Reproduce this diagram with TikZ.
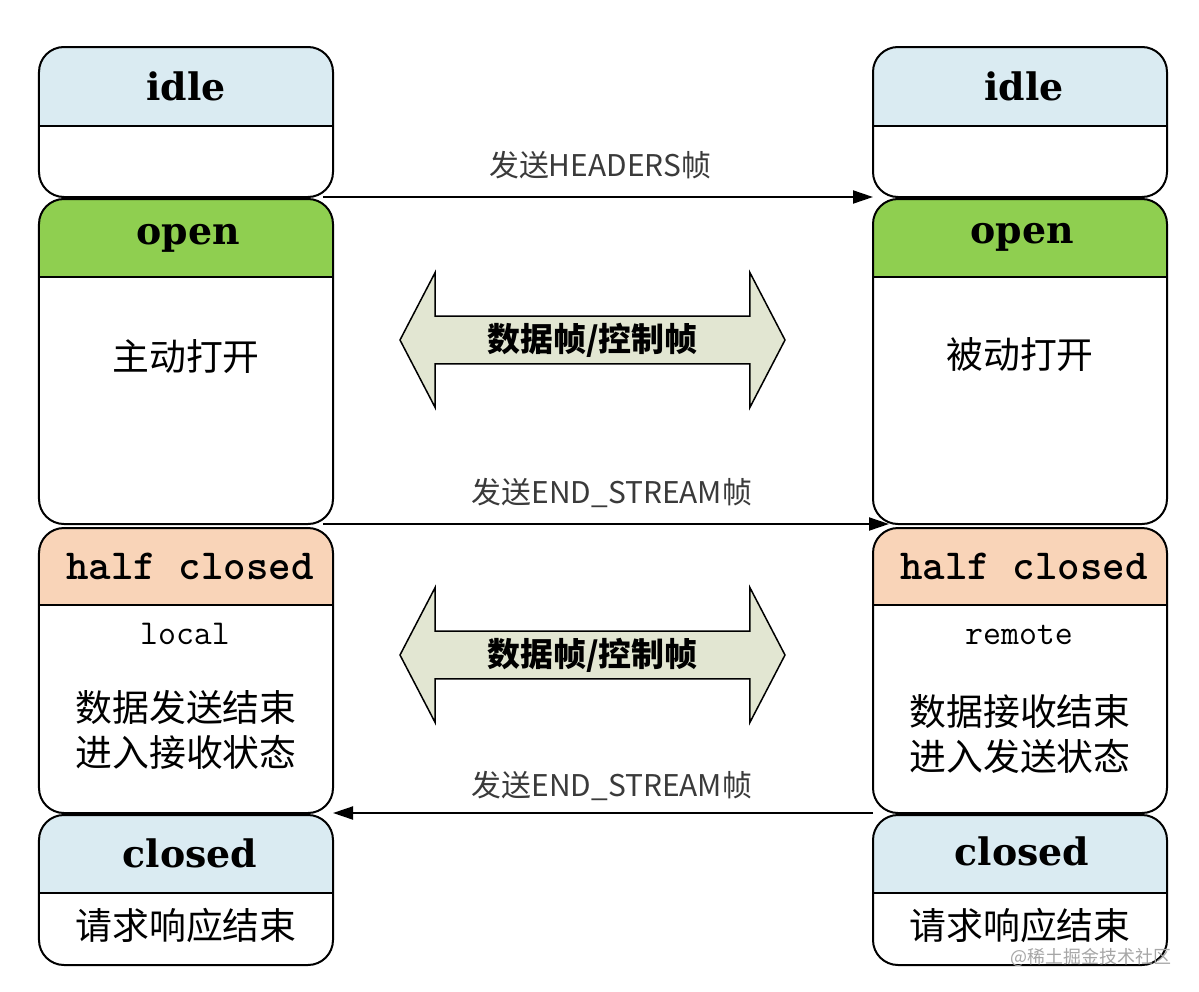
\documentclass[tikz,border=0pt]{standalone}
\usepackage{fontspec}
\newfontfamily\cjk{Noto Sans CJK SC}
\newfontfamily\serifb{DejaVu Serif}
\usetikzlibrary{arrows.meta,shapes.arrows}
\definecolor{hblue}{HTML}{DAEBF2}
\definecolor{hgreen}{HTML}{8FCF50}
\definecolor{hpeach}{HTML}{F9D4B8}
\definecolor{arrfill}{HTML}{E2E6D2}
\definecolor{lbl}{HTML}{3A3A3A}
\begin{document}
\begin{tikzpicture}[x=1bp,y=-1bp,
  state/.style={draw=black, line width=2bp, rounded corners=25bp, fill=white,
    minimum width=294bp, inner sep=0pt, outer sep=0pt},
  hdr/.style 2 args={path picture={
    \fill[#1, sharp corners] (path picture bounding box.north west) rectangle ([yshift=-#2 bp]path picture bounding box.north east);
    \draw[line width=2bp, sharp corners] ([yshift=-#2 bp]path picture bounding box.north west) -- ([yshift=-#2 bp]path picture bounding box.north east);}},
  htext/.style={font=\serifb\bfseries\fontsize{38}{38}\selectfont, inner sep=0pt},
  hmono/.style={font=\ttfamily\bfseries\fontsize{43}{43}\selectfont, inner sep=0pt},
  mono/.style={font=\ttfamily\fontsize{35}{35}\selectfont, inner sep=0pt},
  body/.style={font=\cjk\fontsize{37}{46}\selectfont, align=center, inner sep=0pt},
  tlabel/.style={font=\cjk\fontsize{30}{30}\selectfont, text=lbl, inner sep=0pt},
  trans/.style={draw=black, line width=2bp, -{Triangle[length=20bp,width=13bp]}},
  dbl/.style={double arrow, draw=black, line width=1.5bp, fill=arrfill,
    minimum height=385bp, minimum width=135bp, double arrow head extend=32.5bp,
    double arrow tip angle=125, inner sep=0pt,
    font=\cjk\bfseries\fontsize{33}{33}\selectfont}
]
\useasboundingbox[fill=white] (0,0) rectangle (1199,992);

% left column
\node[state, minimum height=150bp, hdr={hblue}{79}] (idleL) at (186,122) {};
\node[state, minimum height=325bp, hdr={hgreen}{78}] (openL) at (186,361.5) {};
\node[state, minimum height=285bp, hdr={hpeach}{77}] (halfL) at (186,670.5) {};
\node[state, minimum height=150bp, hdr={hblue}{78}] (closedL) at (186,890) {};
% right column
\node[state, minimum height=150bp, hdr={hblue}{79}] (idleR) at (1020,122) {};
\node[state, minimum height=325bp, hdr={hgreen}{78}] (openR) at (1020,361.5) {};
\node[state, minimum height=285bp, hdr={hpeach}{77}] (halfR) at (1020,670.5) {};
\node[state, minimum height=150bp, hdr={hblue}{78}] (closedR) at (1020,890) {};

% header texts
\node[htext] (tIdleL) at (186,86) {idle};
\node[htext] (tOpenL) at (188,238) {open};
\node[hmono] (tHalfL) at (190,566) {half closed};
\node[htext] (tClosedL) at (190,853) {closed};
\node[htext] (tIdleR) at (1024,86) {idle};
\node[htext] (tOpenR) at (1022,237) {open};
\node[hmono] (tHalfR) at (1024,566) {half closed};
\node[htext] (tClosedR) at (1022,851) {closed};

% body texts
\node[body] (bOpenL) at (186,357) {主动打开};
\node[body] (bOpenR) at (1020,355) {被动打开};
\node[mono] (mLocal) at (185,634) {local};
\node[mono] (mRemote) at (1019,635) {remote};
\node[body] (bHalfL) at (186,730) {数据发送结束\\进入接收状态};
\node[body] (bHalfR) at (1020,734) {数据接收结束\\进入发送状态};
\node[body] (bClosedL) at (186,925) {请求响应结束};
\node[body] (bClosedR) at (1020,925) {请求响应结束};

% data frame double arrows
\node[dbl] (dataA) at (592.5,340) {数据帧/控制帧};
\node[dbl] (dataB) at (592.5,655) {数据帧/控制帧};

% transitions
\draw[trans] ([xshift=-10bp]idleL.south east) -- (idleL.south east -| idleR.west);
\node[tlabel] (lHeaders) at (600,165) {发送HEADERS帧};
\draw[trans] ([xshift=-10bp]openL.south east) -- ([xshift=16bp]openL.south east -| openR.west);
\node[tlabel] (lEnd1) at (612,493) {发送END\_STREAM帧};
\draw[trans] (halfR.south west) -- (halfR.south west -| halfL.east);
\node[tlabel] (lEnd2) at (612,786) {发送END\_STREAM帧};

% watermark
\node[font=\cjk\fontsize{18}{18}\selectfont, text=black!35, inner sep=0pt] (wm) at (1091,957) {@稀土掘金技术社区};
\end{tikzpicture}
\end{document}
